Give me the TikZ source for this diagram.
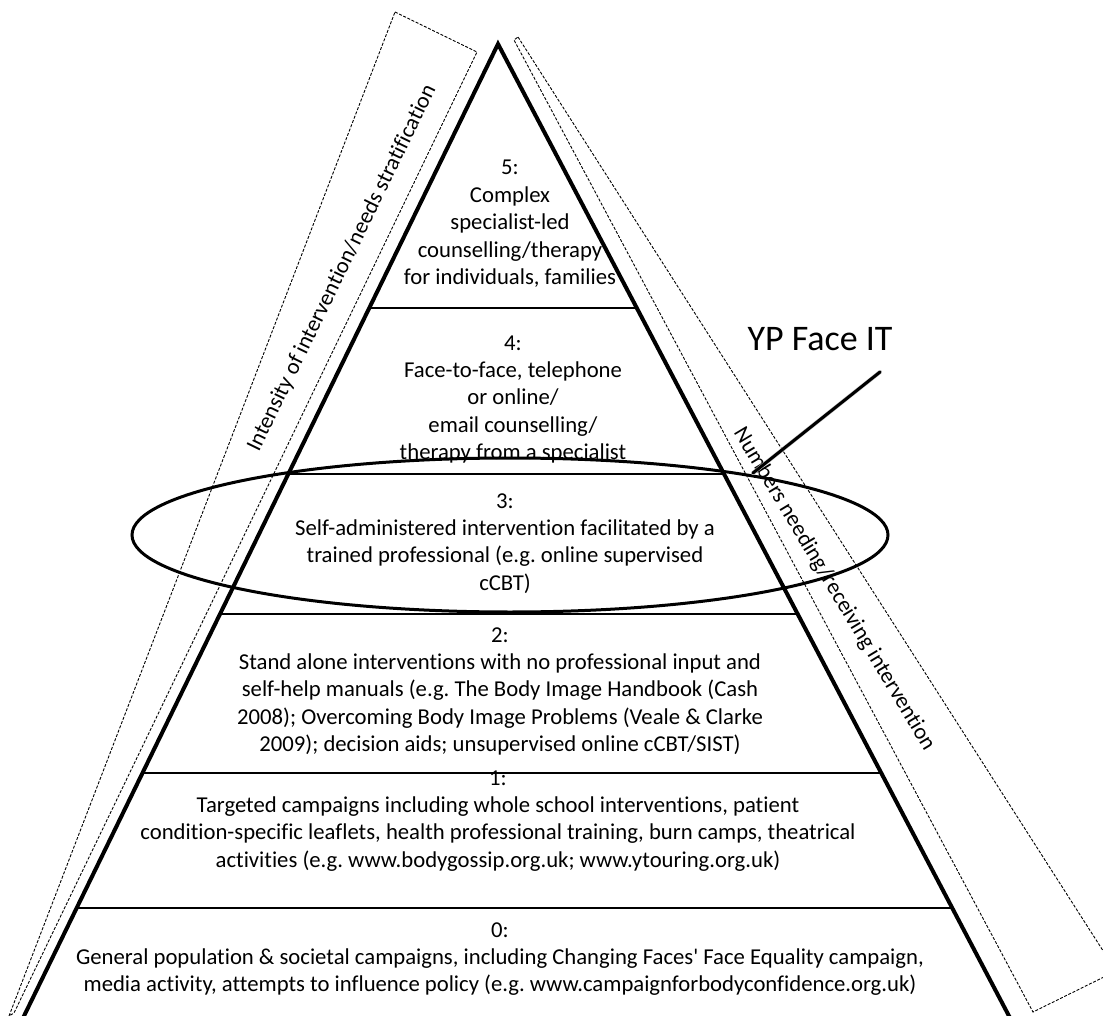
\documentclass[tikz,border=0pt]{standalone}
\usepackage{fontspec}
\newfontfamily\carlito{Carlito}[Ligatures=NoCommon]
\usetikzlibrary{calc}
\frenchspacing
\begin{document}
\begin{tikzpicture}[x=1pt,y=-1pt,
  edge/.style={line width=4pt,line join=miter},
  tierline/.style={line width=2pt},
  guide/.style={line width=0.9pt,dash pattern=on 3pt off 1.6pt},
  tiertext/.style={align=center,anchor=base,inner sep=0pt,
    font=\carlito\fontsize{22.7}{27.4}\selectfont},
  sidetext/.style={anchor=center,inner sep=0pt,
    font=\carlito\fontsize{22.5}{27.4}\selectfont},
  ring/.style={line width=3pt},
  pointer/.style={line width=3pt,line cap=round},
]
\useasboundingbox (0,0) rectangle (1103,1016);
\clip (0,0) rectangle (1103,1016);

% dashed side bands
\coordinate (la) at (395,12);
\coordinate (lb) at (477,52);
\coordinate (lc) at (14,1013);
\coordinate (ld) at (9,1016);
\draw[guide] (la) -- (lb) -- (lc) -- (ld) -- cycle;
\coordinate (ra) at (518,37);
\coordinate (rb) at (1116,971);
\coordinate (rc) at (1033,1012);
\coordinate (rd) at (514,40);
\draw[guide] (ra) -- (rb) -- (rc) -- (rd) -- cycle;

% pyramid outline
\coordinate (apex) at (498,44);
\coordinate (bl) at (24,1016);
\coordinate (br) at (1009,1016);
\draw[edge] ($(apex)!1.03!(bl)$) -- (apex) -- ($(apex)!1.03!(br)$);

% tier separators
\foreach \t in {0.2716,0.4424,0.5864,0.75,0.8889}
  \draw[tierline] ($(apex)!\t!(bl)$) -- ($(apex)!\t!(br)$);

% tier texts (anchored at the baseline of the last line)
\node[tiertext] (t5) at (510,284.6) {5:\\Complex\\specialist-led\\counselling/therapy\\for individuals, families};
\node[tiertext] (t4) at (513,459.6) {4:\\Face-to-face, telephone\\or online/\\email counselling/\\therapy from a specialist};
\node[tiertext] (t3) at (505,590.2) {3:\\Self-administered intervention facilitated by a\\trained professional (e.g. online supervised\\cCBT)};
\node[tiertext] (t2) at (500,751.6) {2:\\Stand alone interventions with no professional input and\\self-help manuals (e.g. The Body Image Handbook (Cash\\2008); Overcoming Body Image Problems (Veale \& Clarke\\2009); decision aids; unsupervised online cCBT/SIST)};
\node[tiertext] (t1) at (498,867.2) {1:\\Targeted campaigns including whole school interventions, patient\\condition-specific leaflets, health professional training, burn camps, theatrical\\activities (e.g. www.bodygossip.org.uk; www.ytouring.org.uk)};
\node[tiertext] (t0) at (500,991.8) {0:\\General population \& societal campaigns, including Changing Faces' Face Equality campaign,\\media activity, attempts to influence policy (e.g. www.campaignforbodyconfidence.org.uk)};

% side labels
\node[sidetext,rotate=64] (intensity) at (342,268) {Intensity of intervention/needs stratification};
\node[sidetext,rotate=-59] (numbers) at (834,589) {Numbers needing/receiving intervention};

% highlighted tier
\draw[ring] (510,535) ellipse [x radius=378, y radius=77];

% callout
\node[anchor=base,inner sep=0pt,font=\carlito\fontsize{36}{43}\selectfont] (yp) at (820,350) {YP Face IT};
\coordinate (callout) at (880,372);
\coordinate (hit) at (753,473);
\draw[pointer,black!25,line width=4pt,shift={(2.5,2.5)}] (callout) -- (hit);
\draw[pointer] (callout) -- (hit);
\end{tikzpicture}
\end{document}
